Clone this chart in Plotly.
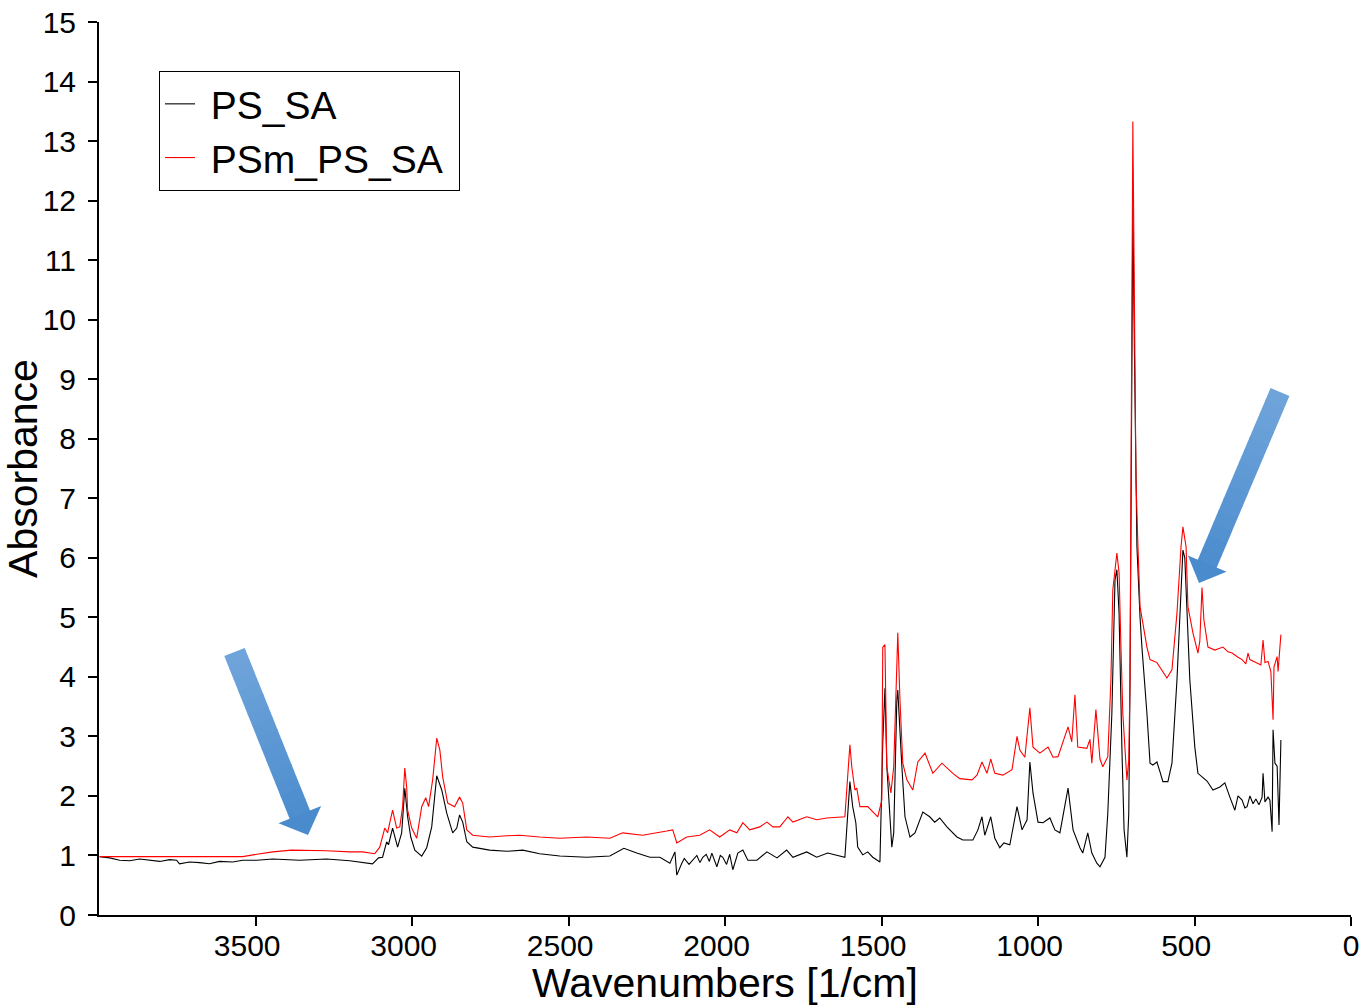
import math
import plotly.graph_objects as go

# ---------------- data ----------------
ps_wn = [3998, 3966, 3934, 3902, 3870, 3838, 3806, 3774, 3752, 3743, 3711, 3679, 3647, 3615, 3573, 3541,
         3496, 3445, 3359, 3273, 3199, 3126, 3107, 3094, 3081, 3075, 3062, 3046, 3033, 3023, 3014, 3004,
         2991, 2969, 2953, 2937, 2921, 2905, 2889, 2870, 2857, 2848, 2838, 2825, 2806, 2752, 2697, 2646,
         2592, 2528, 2442, 2368, 2323, 2282, 2240, 2208, 2176, 2160, 2154, 2138, 2130, 2115, 2103, 2090,
         2080, 2071, 2060, 2050, 2042, 2026, 2015, 2007, 1995, 1985, 1975, 1965, 1959, 1943, 1927, 1898,
         1866, 1834, 1803, 1783, 1739, 1707, 1672, 1617, 1608, 1601, 1592, 1582, 1576, 1560, 1544, 1528,
         1505, 1496, 1489, 1483, 1467, 1461, 1451, 1448, 1435, 1425, 1409, 1393, 1368, 1346, 1330, 1314,
         1291, 1259, 1240, 1208, 1192, 1179, 1170, 1151, 1138, 1122, 1109, 1090, 1067, 1051, 1035, 1026,
         1016, 1000, 984, 972, 962, 946, 930, 904, 888, 866, 857, 841, 828, 812, 802, 786, 777, 764, 754,
         748, 741, 732, 725, 716, 710, 706, 702, 697, 692, 687, 684, 674, 668, 652, 642, 633, 620, 610,
         601, 585, 572, 556, 543, 537, 531, 524, 515, 499, 489, 460, 441, 419, 403, 387, 371, 361, 348,
         339, 332, 323, 313, 304, 294, 284, 281, 275, 265, 259, 252, 249, 243, 236, 230, 224]
ps_abs = [0.98, 0.96, 0.92, 0.91, 0.94, 0.92, 0.90, 0.93, 0.92, 0.86, 0.89, 0.88, 0.86, 0.90, 0.89, 0.92,
          0.92, 0.94, 0.92, 0.94, 0.91, 0.86, 0.96, 0.97, 1.23, 1.18, 1.46, 1.14, 1.38, 2.13, 1.65, 1.31,
          1.09, 0.99, 1.13, 1.48, 2.34, 2.10, 1.71, 1.38, 1.46, 1.68, 1.56, 1.23, 1.14, 1.09, 1.07, 1.09,
          1.03, 0.99, 0.97, 0.99, 1.12, 1.04, 0.97, 0.97, 0.87, 1.06, 0.67, 0.87, 0.95, 0.85, 0.92, 1.00,
          0.88, 0.97, 1.02, 0.90, 1.04, 0.81, 1.00, 0.97, 0.85, 1.02, 0.76, 0.95, 1.04, 1.09, 0.92, 0.92,
          1.06, 0.96, 1.09, 0.97, 1.06, 0.97, 1.04, 0.97, 1.65, 2.24, 1.82, 1.55, 1.14, 1.01, 1.06, 0.97,
          0.89, 2.89, 3.81, 2.50, 1.14, 1.38, 3.61, 3.78, 2.50, 1.65, 1.31, 1.38, 1.73, 1.65, 1.56, 1.63,
          1.48, 1.31, 1.26, 1.26, 1.43, 1.65, 1.34, 1.65, 1.29, 1.13, 1.21, 1.18, 1.82, 1.43, 1.60, 2.57,
          2.05, 1.56, 1.55, 1.60, 1.63, 1.43, 1.38, 2.13, 1.43, 1.13, 1.04, 1.38, 1.04, 0.87, 0.81, 0.97,
          1.71, 3.39, 5.63, 5.80, 5.07, 2.82, 1.43, 0.97, 1.71, 3.95, 7.30, 11.90, 9.50, 7.00, 6.19, 5.00,
          4.50, 3.39, 2.55, 2.52, 2.57, 2.40, 2.24, 2.24, 2.55, 3.95, 5.63, 6.13, 6.00, 5.07, 3.95, 2.82,
          2.38, 2.25, 2.10, 2.15, 2.22, 1.98, 1.76, 2.00, 1.93, 1.80, 1.82, 2.00, 1.87, 1.95, 1.85, 1.98,
          2.38, 1.90, 1.98, 1.93, 1.40, 3.11, 2.55, 2.50, 1.51, 2.94]

psm_wn = [3998, 3838, 3679, 3541, 3496, 3445, 3385, 3273, 3199, 3158, 3119, 3103, 3087, 3078, 3071, 3062,
          3049, 3039, 3030, 3023, 3017, 3014, 3001, 2985, 2969, 2956, 2947, 2934, 2921, 2911, 2902, 2886,
          2864, 2848, 2838, 2825, 2806, 2752, 2697, 2656, 2592, 2528, 2442, 2368, 2327, 2263, 2186, 2167,
          2154, 2122, 2081, 2049, 2017, 1985, 1962, 1943, 1921, 1889, 1866, 1847, 1825, 1799, 1783, 1739,
          1707, 1675, 1617, 1608, 1601, 1595, 1585, 1579, 1569, 1544, 1512, 1499, 1496, 1489, 1483, 1470,
          1461, 1451, 1448, 1441, 1432, 1419, 1400, 1384, 1361, 1336, 1307, 1272, 1250, 1211, 1195, 1179,
          1163, 1151, 1138, 1112, 1083, 1067, 1058, 1042, 1026, 1016, 994, 968, 952, 936, 904, 892, 882,
          873, 844, 834, 828, 815, 802, 793, 777, 767, 761, 748, 741, 735, 729, 716, 710, 706, 702, 697,
          692, 687, 681, 674, 652, 642, 620, 604, 588, 572, 556, 543, 537, 527, 521, 505, 489, 483, 476,
          470, 457, 435, 409, 393, 380, 361, 348, 336, 329, 323, 310, 300, 288, 281, 275, 265, 256, 249,
          246, 236, 233, 224]
psm_abs = [0.98, 0.98, 0.97, 0.98, 1.02, 1.06, 1.09, 1.08, 1.06, 1.06, 1.03, 1.14, 1.46, 1.38, 1.55, 1.76,
           1.46, 1.48, 1.82, 2.47, 2.15, 1.76, 1.46, 1.29, 1.82, 1.97, 1.82, 2.27, 2.97, 2.77, 2.32, 1.88,
           1.82, 1.98, 1.88, 1.43, 1.34, 1.31, 1.33, 1.34, 1.31, 1.29, 1.31, 1.29, 1.38, 1.34, 1.41, 1.43,
           1.21, 1.31, 1.34, 1.43, 1.31, 1.43, 1.38, 1.55, 1.43, 1.48, 1.56, 1.48, 1.48, 1.65, 1.56, 1.65,
           1.60, 1.63, 1.65, 2.27, 2.86, 2.49, 2.10, 2.13, 1.82, 1.82, 1.65, 1.93, 4.50, 4.54, 2.49, 2.05,
           2.49, 4.20, 4.74, 3.61, 2.55, 2.27, 2.10, 2.57, 2.72, 2.38, 2.55, 2.38, 2.29, 2.27, 2.35, 2.57,
           2.38, 2.62, 2.38, 2.35, 2.44, 3.00, 2.77, 2.65, 3.48, 2.82, 2.72, 2.82, 2.65, 2.66, 3.16, 2.91, 3.70,
           2.82, 2.80, 2.95, 2.55, 3.45, 2.62, 2.49, 2.66, 3.95, 5.46, 6.08, 5.75, 4.50, 3.39, 2.27, 2.60, 3.95, 7.31, 13.33,
           10.34, 7.31, 6.25, 5.18, 4.50, 4.29, 4.24, 4.10, 3.98, 4.12, 5.07, 6.19, 6.52, 6.19, 5.18, 4.74, 4.40, 4.60, 5.50,
           4.96, 4.50, 4.45, 4.50, 4.42, 4.40, 4.33, 4.29, 4.22, 4.40, 4.29, 4.26, 4.24, 4.20, 4.62, 4.24, 4.26, 4.09, 3.28,
           4.17, 4.34, 4.09, 4.71]

series_names = ["PS_SA", "PSm_PS_SA"]
x_ticks = [3500, 3000, 2500, 2000, 1500, 1000, 500, 0]
y_ticks = list(range(0, 16))

# ---------------- figure ----------------
W, H = 1362, 1006
ML, MR, MT, MB = 99, 11, 22, 91
PW, PH = W - ML - MR, H - MT - MB
FONT = "Arial, Liberation Sans, sans-serif"
NB = "\u00a0"

fig = go.Figure()
fig.add_trace(go.Scatter(x=ps_wn, y=ps_abs, mode="lines", name=NB + series_names[0] + NB,
                         line=dict(color="#000000", width=1.1)))
fig.add_trace(go.Scatter(x=psm_wn, y=psm_abs, mode="lines", name=NB + series_names[1] + NB,
                         line=dict(color="#FF0000", width=1.1)))


def to_paper(px, py):
    return (px - ML) / PW, (H - MB - py) / PH


def poly_path(pts):
    pp = [to_paper(x, y) for x, y in pts]
    return "M " + " L ".join(f"{x:.5f},{y:.5f}" for x, y in pp) + " Z"


def mix(c1, c2, t):
    return "#" + "".join(f"{round(a + (b - a) * t):02x}" for a, b in zip(c1, c2))


def add_arrow(tail, tip, shaft_w, head_w, head_len, n=14):
    top_c, bot_c = (0x70, 0xA5, 0xDA), (0x4A, 0x8B, 0xCD)
    tx, ty = tail
    hx, hy = tip
    L = math.hypot(hx - tx, hy - ty)
    ux, uy = (hx - tx) / L, (hy - ty) / L
    nx, ny = -uy, ux
    shaft_len = L - head_len
    for i in range(n):
        s0 = shaft_len * i / n
        s1 = min(shaft_len * (i + 1) / n + 0.8, shaft_len + 0.8)
        a = (tx + ux * s0, ty + uy * s0)
        b = (tx + ux * s1, ty + uy * s1)
        pts = [(a[0] + nx * shaft_w / 2, a[1] + ny * shaft_w / 2),
               (b[0] + nx * shaft_w / 2, b[1] + ny * shaft_w / 2),
               (b[0] - nx * shaft_w / 2, b[1] - ny * shaft_w / 2),
               (a[0] - nx * shaft_w / 2, a[1] - ny * shaft_w / 2)]
        col = mix(top_c, bot_c, (i + 0.5) / (n + 1))
        fig.add_shape(type="path", xref="paper", yref="paper", path=poly_path(pts),
                      fillcolor=col, line=dict(width=0), layer="above")
    bx, by = tx + ux * shaft_len, ty + uy * shaft_len
    head = [(bx + nx * head_w / 2, by + ny * head_w / 2), (hx, hy),
            (bx - nx * head_w / 2, by - ny * head_w / 2)]
    fig.add_shape(type="path", xref="paper", yref="paper", path=poly_path(head),
                  fillcolor=mix(top_c, bot_c, 1.0), line=dict(width=0), layer="above")


arrows = [
    dict(tail=(234.5, 652), tip=(308, 835), shaft_w=22, head_w=46, head_len=22),
    dict(tail=(1280, 392), tip=(1199, 583), shaft_w=20.5, head_w=42, head_len=21),
]
for a in arrows:
    add_arrow(**a)

axis_common = dict(showgrid=False, zeroline=False, showline=True, linecolor="black", linewidth=2,
                   ticks="outside", ticklen=9, tickwidth=2, tickcolor="black", automargin=False,
                   ticklabeloverflow="allow",
                   tickfont=dict(family=FONT, size=30, color="black"), mirror=False)

x_text = [str(v) if v == 0 else str(v) + NB * 2 for v in x_ticks]

fig.update_layout(
    width=W, height=H,
    margin=dict(l=ML, r=MR, t=MT, b=MB, pad=0, autoexpand=False),
    paper_bgcolor="white", plot_bgcolor="white",
    font=dict(family=FONT, color="black"),
    showlegend=True,
    legend=dict(x=(159 - ML) / PW, y=(H - MB - 71) / PH, xanchor="left", yanchor="top",
                bgcolor="white", bordercolor="black", borderwidth=1,
                font=dict(family=FONT, size=39, color="black"), itemwidth=30,
                tracegroupgap=0),
    xaxis=dict(range=[4000, 0], tickvals=x_ticks, ticktext=x_text,
               title=dict(text="Wavenumbers [1/cm]", font=dict(family=FONT, size=41, color="black"),
                          standoff=4),
               ticklabelstandoff=-6, **axis_common),
    yaxis=dict(range=[0, 15], tickvals=y_ticks, ticktext=[str(v) for v in y_ticks],
               title=dict(text="Absorbance", font=dict(family=FONT, size=41, color="black"),
                          standoff=4),
               ticklabelstandoff=6, **axis_common),
)

fig.write_html("out.html")
